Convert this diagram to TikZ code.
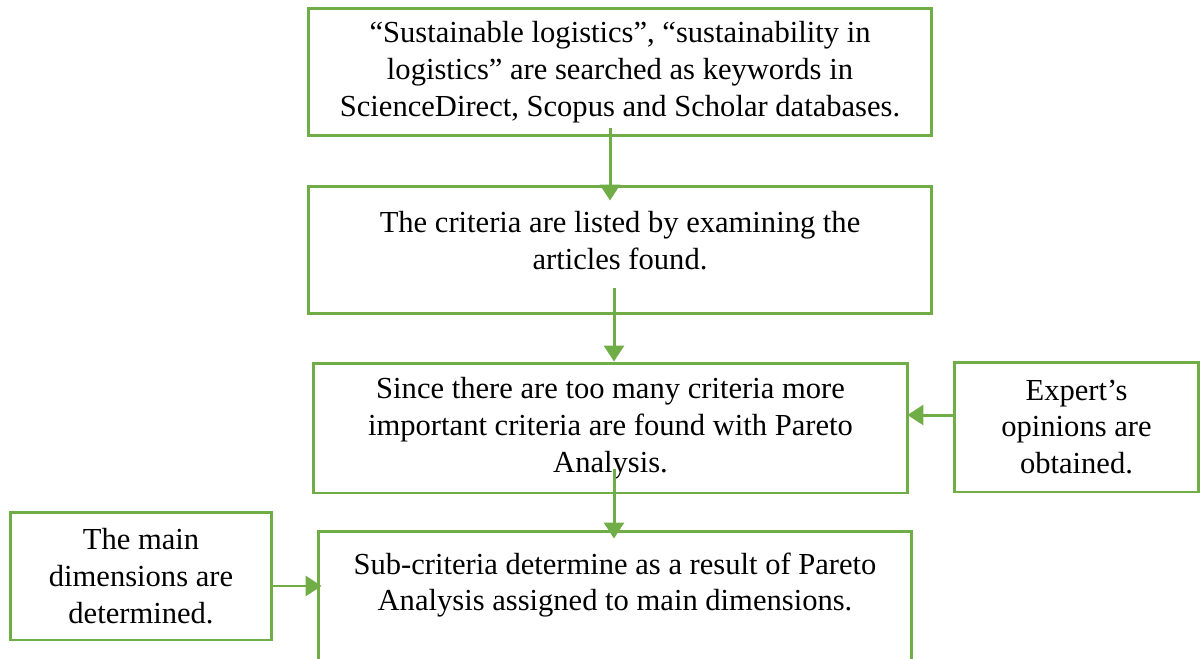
\documentclass[tikz,border=0pt]{standalone}
\usepackage{fontspec}
\setmainfont{Liberation Serif}
\usetikzlibrary{arrows.meta}
\definecolor{boxgreen}{RGB}{112,173,71}
\tikzset{
  box/.style={draw=boxgreen, line width=1.7pt, align=center, inner sep=0pt,
    font=\fontsize{17.4}{21}\selectfont},
  txt/.style={align=center, inner sep=0pt, font=\fontsize{17.4}{21}\selectfont},
  flow/.style={draw=boxgreen, line width=1.7pt,
    -{Triangle[width=0.4cm,length=0.32cm]}}
}
\begin{document}
\begin{tikzpicture}[x=0.02cm, y=-0.02cm]
\useasboundingbox (0,0) rectangle (1200,659);
\clip (0,0) rectangle (1200,659);
% main column
\node[box, minimum width=12.48cm, minimum height=2.56cm] (search) at (620,72)
  {``Sustainable logistics'', ``sustainability in\\ logistics'' are searched as keywords in\\ ScienceDirect, Scopus and Scholar databases.};
\node[box, minimum width=12.48cm, minimum height=2.56cm] (crit) at (620,250) {};
\node[txt] (crittext) at (620,241) {The criteria are listed by examining the\\ articles found.};
\node[box, minimum width=11.9cm, minimum height=2.6cm] (pareto) at (610.5,428)
  {Since there are too many criteria more\\ important criteria are found with Pareto\\ Analysis.};
\node[box, minimum width=11.88cm, minimum height=3.38cm] (sub) at (615,615.5) {};
\node[txt] (subtext) at (615,585) {Sub-criteria determine as a result of Pareto\\ Analysis assigned to main dimensions.};
% side boxes
\node[box, minimum width=4.9cm, minimum height=2.6cm] (expert) at (1076.5,427)
  {Expert's\\ opinions are\\ obtained.};
\node[box, minimum width=5.24cm, minimum height=2.56cm] (dims) at (141,576)
  {The main\\ dimensions are\\ determined.};
% arrows
\draw[flow] ([xshift=-0.2cm,yshift=0.18cm]search.south) -- ([xshift=-0.2cm,yshift=-0.32cm]crit.north);
\draw[flow] ([xshift=-0.12cm,yshift=0.54cm]crit.south) -- ([xshift=-0.12cm]crit.south |- pareto.north);
\draw[flow] ([xshift=0.07cm,yshift=0.5cm]pareto.south) -- ([xshift=0.07cm,yshift=-0.18cm]pareto.south |- sub.north);
\draw[flow] ([yshift=0.24cm]expert.west) -- ([xshift=-0.04cm,yshift=0.24cm]expert.west -| pareto.east);
\draw[flow] ([yshift=-0.2cm]dims.east) -- ([xshift=0.1cm,yshift=-0.2cm]dims.east -| sub.west);
\end{tikzpicture}
\end{document}
